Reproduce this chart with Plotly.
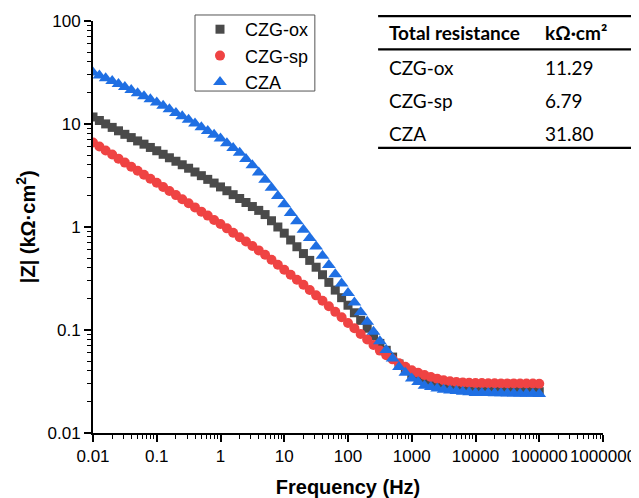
import plotly.graph_objects as go

# Bode magnitude data, |Z| in kOhm*cm2, 10 points per decade from 0.01 Hz to 100 kHz
freq = [
    0.01, 0.0126, 0.0158, 0.02, 0.0251, 0.0316, 0.0398, 0.0501, 0.0631, 0.0794,
    0.1, 0.126, 0.158, 0.2, 0.251, 0.316, 0.398, 0.501, 0.631, 0.794,
    1, 1.26, 1.58, 2, 2.51, 3.16, 3.98, 5.01, 6.31, 7.94,
    10, 12.6, 15.8, 20, 25.1, 31.6, 39.8, 50.1, 63.1, 79.4,
    100, 126, 158, 200, 251, 316, 398, 501, 631, 794,
    1000, 1259, 1585, 1995, 2512, 3162, 3981, 5012, 6310, 7943,
    10000, 12589, 15849, 19953, 25119, 31623, 39811, 50119, 63096, 79433,
    100000,
]

z_czg_ox = [
    11.70, 10.81, 10.02, 9.27, 8.59, 7.94, 7.38, 6.85, 6.37, 5.92,
    5.50, 5.08, 4.70, 4.35, 4.02, 3.72, 3.42, 3.15, 2.90, 2.67,
    2.45, 2.25, 2.06, 1.89, 1.73, 1.58, 1.45, 1.32, 1.15, 1.00,
    0.871, 0.748, 0.643, 0.552, 0.474, 0.407, 0.344, 0.290, 0.244, 0.206,
    0.174, 0.147, 0.124, 0.104, 0.0879, 0.0741, 0.0635, 0.0546, 0.0468, 0.0417,
    0.0372, 0.0347, 0.0324, 0.0302, 0.0292, 0.0282, 0.0272, 0.0269, 0.0264, 0.0261,
    0.0257, 0.0257, 0.0256, 0.0256, 0.0255, 0.0255, 0.0254, 0.0254, 0.0253, 0.0253,
    0.0252,
]

z_czg_sp = [
    6.61, 6.04, 5.52, 5.05, 4.61, 4.22, 3.85, 3.52, 3.22, 2.94,
    2.69, 2.45, 2.24, 2.04, 1.86, 1.70, 1.55, 1.41, 1.29, 1.17,
    1.07, 0.970, 0.879, 0.796, 0.723, 0.655, 0.593, 0.537, 0.480, 0.430,
    0.384, 0.344, 0.307, 0.275, 0.245, 0.217, 0.192, 0.170, 0.150, 0.133,
    0.117, 0.104, 0.0916, 0.0809, 0.0714, 0.0631, 0.0569, 0.0519, 0.0476, 0.0440,
    0.0407, 0.0385, 0.0366, 0.0350, 0.0336, 0.0325, 0.0318, 0.0313, 0.0310, 0.0307,
    0.0305, 0.0305, 0.0304, 0.0304, 0.0303, 0.0303, 0.0303, 0.0302, 0.0302, 0.0302,
    0.0301,
]

z_cza = [
    31.6, 29.6, 27.8, 26.1, 24.4, 22.9, 21.4, 19.9, 18.6, 17.4,
    16.2, 15.0, 13.9, 12.8, 11.9, 11.0, 10.1, 9.29, 8.55, 7.87,
    7.24, 6.50, 5.85, 5.25, 4.57, 3.98, 3.39, 2.88, 2.40, 2.00,
    1.66, 1.37, 1.14, 0.942, 0.780, 0.646, 0.525, 0.427, 0.347, 0.282,
    0.229, 0.185, 0.149, 0.120, 0.0964, 0.0776, 0.0641, 0.0528, 0.0437, 0.0385,
    0.0339, 0.0313, 0.0288, 0.0280, 0.0271, 0.0263, 0.0259, 0.0256, 0.0252, 0.0249,
    0.0245, 0.0245, 0.0244, 0.0243, 0.0243, 0.0242, 0.0242, 0.0241, 0.0240, 0.0240,
    0.0239,
]

x_ticks = [0.01, 0.1, 1, 10, 100, 1000, 10000, 100000, 1000000]
x_ticklabels = ["0.01", "0.1", "1", "10", "100", "1000", "10000", "100000", "1000000"]
y_ticks = [0.01, 0.1, 1, 10, 100]
y_ticklabels = ["0.01", "0.1", "1", "10", "100"]

# inset table
table_header = ["Total resistance", "kΩ·cm²"]
table_samples = ["CZG-ox", "CZG-sp", "CZA"]
table_values = ["11.29", "6.79", "31.80"]

FONT = "Liberation Sans, Arial, sans-serif"
TABLE_FONT = "Lato, Open Sans, sans-serif"

# the page body adds an 8px margin, so the figure is drawn 8px smaller
W, H, PAGE = 639, 498, 8

series = [
    ("CZG-ox", z_czg_ox, "#4a4a4a", "square", 9),
    ("CZG-sp", z_czg_sp, "#ef4343", "circle", 10),
    ("CZA", z_cza, "#1f6fe3", "triangle-up", 12),
]

fig = go.Figure()
for name, z, color, symbol, size in series:
    fig.add_trace(go.Scatter(
        x=freq, y=z, mode="markers", name=name,
        marker=dict(symbol=symbol, size=size, color=color, line=dict(width=0)),
    ))

axis_common = dict(
    type="log",
    showline=True, linecolor="black", linewidth=2,
    ticks="outside", ticklen=7, tickwidth=1.5, tickcolor="black",
    minor=dict(ticks="outside", ticklen=4, tickwidth=1, tickcolor="black", dtick="D1", showgrid=False),
    showgrid=False, zeroline=False, mirror=False,
    ticklabeloverflow="allow",
    tickfont=dict(family=FONT, size=17, color="black"),
)

fig.update_xaxes(
    range=[-2, 6], tickmode="array", tickvals=x_ticks, ticktext=x_ticklabels,
    title=dict(text="Frequency (Hz)", font=dict(family=FONT, size=20, color="black", weight="bold"), standoff=15),
    **axis_common,
)
fig.update_yaxes(
    range=[-2, 2], tickmode="array", tickvals=y_ticks, ticktext=y_ticklabels,
    **axis_common,
)

# y axis title as a rotated annotation
fig.add_annotation(xref="paper", yref="paper", x=-0.133, y=0.5, xanchor="center", yanchor="middle",
                   text="|Z| (kΩ·cm<sup>2</sup>)", textangle=-90, showarrow=False,
                   font=dict(family=FONT, size=20, color="black", weight="bold"))

# legend frame
fig.add_shape(type="rect", xref="paper", yref="paper", x0=0.2, x1=0.435, y0=0.830, y1=1.0146,
              line=dict(color="#555555", width=1), fillcolor="white", layer="above")

# table rules
for y0 in [1.012, 0.931, 0.692]:
    fig.add_shape(type="line", xref="paper", yref="paper", x0=0.559, x1=1.065, y0=y0, y1=y0,
                  line=dict(color="black", width=2.2))

col_x = [0.5765, 0.8824]
for txt, x in zip(table_header, col_x):
    fig.add_annotation(xref="paper", yref="paper", x=x, y=0.971, xanchor="left", yanchor="middle",
                       text=txt, showarrow=False,
                       font=dict(family=TABLE_FONT, size=19, color="black", weight="bold"))
row_y = [0.886, 0.808, 0.728]
for name, val, y in zip(table_samples, table_values, row_y):
    fig.add_annotation(xref="paper", yref="paper", x=col_x[0], y=y, xanchor="left", yanchor="middle",
                       text=name, showarrow=False, font=dict(family=TABLE_FONT, size=19, color="black"))
    fig.add_annotation(xref="paper", yref="paper", x=col_x[1], y=y, xanchor="left", yanchor="middle",
                       text=val, showarrow=False, font=dict(family=TABLE_FONT, size=19, color="black"))

fig.update_layout(
    width=W - PAGE, height=H - PAGE,
    margin=dict(l=93 - PAGE, r=36, t=21 - PAGE, b=65, autoexpand=False),
    plot_bgcolor="white", paper_bgcolor="white",
    font=dict(family=FONT, color="black"),
    legend=dict(
        xref="container", yref="container",
        x=(195 - PAGE) / (W - PAGE), y=1 - (11 - PAGE) / (H - PAGE), xanchor="left", yanchor="top",
        bgcolor="rgba(0,0,0,0)", borderwidth=0,
        font=dict(family=FONT, size=18, color="black"),
        itemwidth=40, tracegroupgap=0,
    ),
)

fig.write_html("out.html")
